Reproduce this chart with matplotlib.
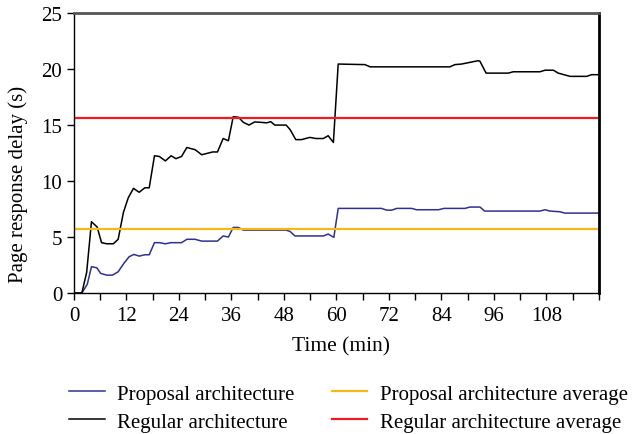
import matplotlib.pyplot as plt
from matplotlib.ticker import MultipleLocator

# time (min) and page response delay (s)
t_regular = [0, 1.8, 2.9, 4.0, 5.3, 6.3, 7.5, 9.0, 10.1, 11.3, 12.4, 13.6, 14.9, 16.2,
             17.2, 18.4, 19.5, 20.9, 22.2, 23.3, 24.6, 25.8, 27.7, 29.2, 30.7, 31.7,
             32.8, 34.1, 35.3, 36.4, 37.6, 38.7, 40.0, 41.3, 42.9, 44.0, 45.0, 45.9,
             48.5, 49.4, 50.7, 52.0, 53.9, 55.3, 57.0, 58.1, 59.3, 60.4, 66.5, 67.7,
             85.9, 87.1, 88.6, 92.4, 92.8, 94.2, 99.3, 100.4, 106.5, 107.7, 109.6,
             110.7, 113.4, 117.2, 118.3, 120]
regular = [0, 0, 1.85, 6.37, 5.9, 4.5, 4.4, 4.4, 4.8, 7.2, 8.5, 9.35, 9.0, 9.4,
           9.4, 12.26, 12.2, 11.8, 12.26, 12.0, 12.2, 13.0, 12.8, 12.35, 12.5, 12.6,
           12.6, 13.8, 13.6, 15.75, 15.7, 15.25, 15.0, 15.28, 15.24, 15.2, 15.3, 15.0,
           15.0, 14.6, 13.7, 13.7, 13.9, 13.8, 13.8, 14.05, 13.45, 20.45, 20.4, 20.2,
           20.2, 20.4, 20.45, 20.75, 20.7, 19.64, 19.64, 19.76, 19.76, 19.9, 19.9,
           19.64, 19.35, 19.35, 19.5, 19.5]

t_proposal = [0, 1.8, 3.05, 4.0, 5.2, 6.1, 7.5, 8.8, 10.1, 11.4, 12.6, 13.7, 14.9,
              16.2, 17.2, 18.4, 19.5, 20.9, 22.2, 24.6, 25.8, 27.7, 29.2, 32.8, 34.1,
              35.3, 36.4, 37.6, 38.7, 48.5, 49.4, 50.5, 57.0, 58.1, 59.4, 60.4, 70.3,
              71.5, 72.6, 73.8, 77.2, 78.3, 83.3, 84.6, 89.4, 90.5, 92.8, 93.9, 106.5,
              107.7, 108.8, 111.1, 112.2, 120]
proposal = [0, 0, 0.8, 2.35, 2.26, 1.76, 1.6, 1.6, 1.9, 2.65, 3.24, 3.45, 3.3,
            3.42, 3.42, 4.5, 4.5, 4.4, 4.5, 4.5, 4.8, 4.8, 4.64, 4.64, 5.1,
            5.0, 5.86, 5.86, 5.62, 5.62, 5.5, 5.1, 5.1, 5.27, 4.97, 7.56, 7.56,
            7.4, 7.4, 7.56, 7.56, 7.44, 7.44, 7.56, 7.56, 7.68, 7.68, 7.32, 7.32,
            7.44, 7.32, 7.26, 7.14, 7.14]

proposal_avg = 5.71
regular_avg = 15.65

plt.rcParams['font.family'] = ['Liberation Serif', 'DejaVu Serif']

fig = plt.figure(figsize=(6.35, 4.35), dpi=100)
ax = fig.add_axes([0.1165, 0.324, 0.8267, 0.6436])

l_prop, = ax.plot(t_proposal, proposal, color='#2e3192', lw=1.1, label='Proposal architecture')
l_reg, = ax.plot(t_regular, regular, color='black', lw=1.1, label='Regular architecture')
l_pavg = ax.axhline(proposal_avg, color='#f9b814', lw=1.6, label='Proposal architecture average')
l_ravg = ax.axhline(regular_avg, color='#ed1c24', lw=1.6, label='Regular architecture average')

ax.set_xlim(0, 120)
ax.set_ylim(0, 25)
ax.set_xticks(range(0, 109, 12))
ax.xaxis.set_minor_locator(MultipleLocator(6))
ax.yaxis.set_major_locator(MultipleLocator(5))
ax.tick_params(axis='both', which='both', direction='out', length=5, width=1,
               labelsize=15, color='black')
ax.tick_params(axis='x', which='major', pad=4)
ax.tick_params(axis='y', which='minor', length=0)

for side in ['left', 'bottom']:
    ax.spines[side].set_linewidth(1.0)
ax.spines['top'].set_color('#555555')
ax.spines['top'].set_linewidth(2)
ax.spines['right'].set_color('black')
ax.spines['right'].set_linewidth(2)

ax.set_xlabel('Time (min)', fontsize=15.5, va='center')
ax.set_ylabel('Page response delay (s)', fontsize=15, va='center')
ax.xaxis.set_label_coords(0.509, -0.19)
ax.yaxis.set_label_coords(-0.107, 0.39)

fig.legend(handles=[l_prop, l_reg, l_pavg, l_ravg], ncol=2, loc='center',
           bbox_to_anchor=(0.549, 0.06), frameon=False, fontsize=15,
           handlelength=1.7, columnspacing=1.8, labelspacing=0.4, handletextpad=0.6)

plt.savefig('out.png', dpi=100)
